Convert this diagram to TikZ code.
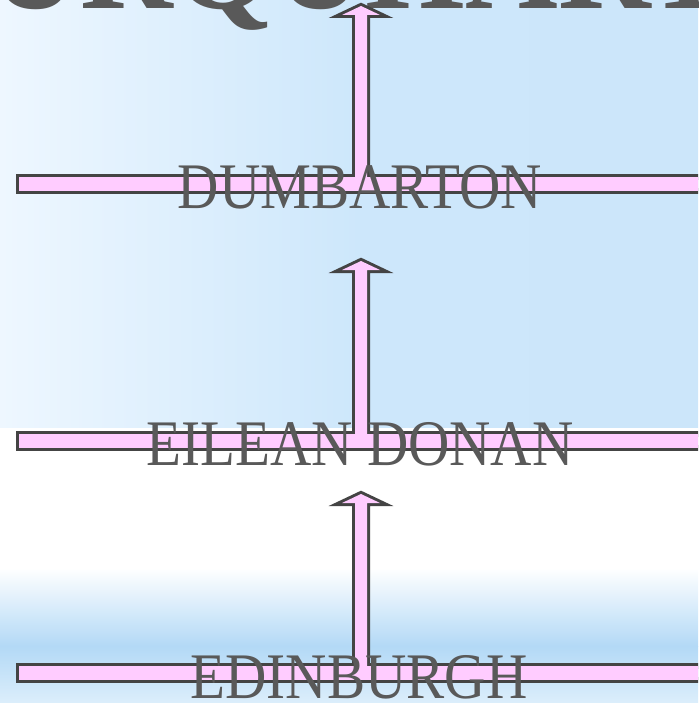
\documentclass[tikz,border=0pt]{standalone}
\usepackage{fontspec}
\newfontfamily\labfont[FakeStretch=0.88]{Liberation Serif}
\newfontfamily\titlefont[FakeStretch=0.95]{Liberation Serif}
\definecolor{pinkfill}{HTML}{FFCCFF}
\definecolor{edge}{HTML}{444444}
\definecolor{txt}{HTML}{595959}
\definecolor{bgA}{HTML}{EEF7FF}
\definecolor{bgB}{HTML}{CDE7FB}
\definecolor{bgC}{HTML}{CCE6FA}
\definecolor{bandB}{HTML}{B3D9F6}
\definecolor{bandC}{HTML}{DCEEFB}
\tikzset{
  lab/.style={anchor=base, text=txt, inner sep=0pt, font=\labfont\fontsize{65}{65}\selectfont},
  ttl/.style={anchor=base, text=txt, inner sep=0pt, font=\titlefont\bfseries\fontsize{135}{135}\selectfont},
  outline/.style={draw=edge, line width=6, line join=miter},
  inside/.style={fill=pinkfill}
}
% #1 = bar top y, #2 = arrow tip y
\newcommand{\barpath}[1]{(19,#1+1) rectangle (720,#1+15)}
\newcommand{\arrowpath}[2]{(355,#1+8) -- (355,#2+13) -- (342,#2+13) -- (361,#2+4) -- (380,#2+13) -- (367,#2+13) -- (367,#1+8) -- cycle}
\begin{document}
\begin{tikzpicture}[x=1pt,y=-1pt]
\useasboundingbox (0,0) rectangle (698,703);
\clip (0,0) rectangle (698,703);
% background
\fill[white] (0,0) rectangle (698,703);
\fill[left color=bgA, right color=bgB] (0,0) rectangle (360,427);
\fill[left color=bgB, right color=bgC] (360,0) rectangle (698,427);
\fill[top color=white, bottom color=bandB] (0,568) rectangle (698,646);
\fill[top color=bandB, bottom color=bandC] (0,646) rectangle (698,703);
% title (clipped at top)
\node[ttl] (title) at (360,9) {URQUHART};
% bars and arrows: outlines first, then fills to merge shapes
\foreach \by/\ty in {176/2, 433/257, 665/490} {
  \draw[outline] \barpath{\by};
  \draw[outline] \arrowpath{\by}{\ty};
}
\foreach \by/\ty in {176/2, 433/257, 665/490} {
  \fill[inside] \barpath{\by};
  \fill[inside] \arrowpath{\by}{\ty};
}
% labels
\node[lab] (dumbarton) at (360,208) {DUMBARTON};
\node[lab] (eilean) at (360,465) {EILEAN DONAN};
\node[lab] (edinburgh) at (359,698) {EDINBURGH};
\end{tikzpicture}
\end{document}
